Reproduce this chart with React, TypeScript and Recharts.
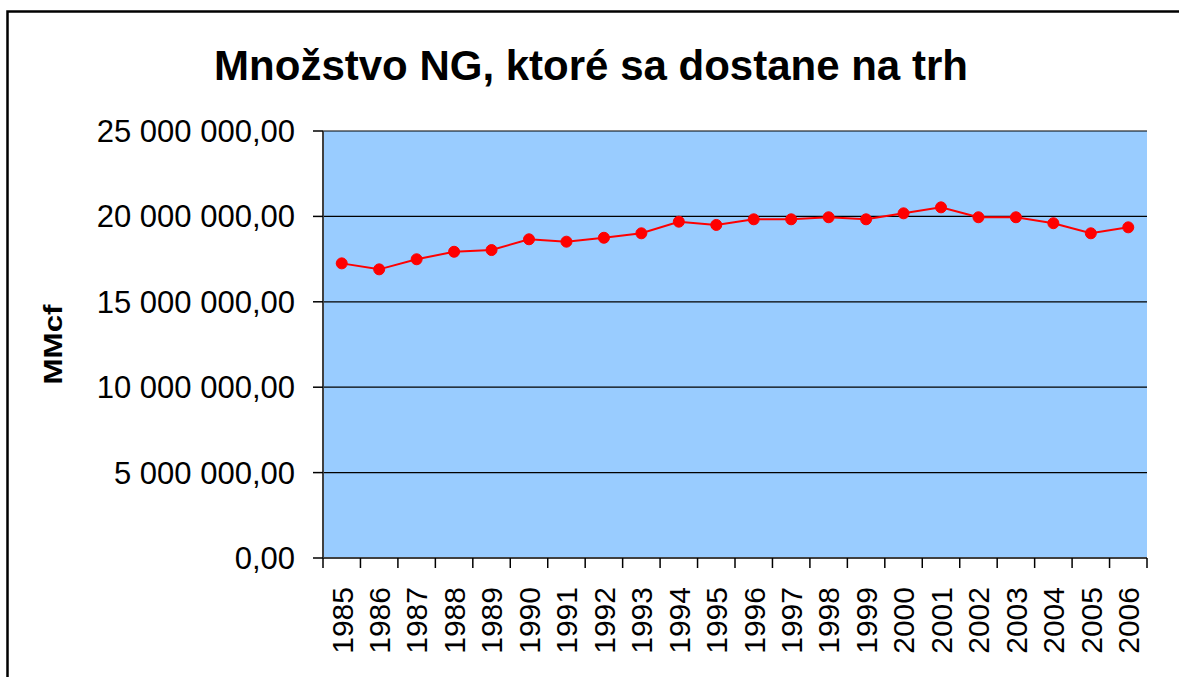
import React from 'react';
import { LineChart, Line, XAxis, YAxis, CartesianGrid } from 'recharts';

const years = ['1985','1986','1987','1988','1989','1990','1991','1992','1993','1994','1995','1996','1997','1998','1999','2000','2001','2002','2003','2004','2005','2006'];
const volumes = [17250000,16900000,17490000,17930000,18030000,18660000,18520000,18750000,19010000,19690000,19500000,19830000,19830000,19950000,19830000,20180000,20530000,19950000,19950000,19600000,19010000,19360000];
const yTicks = [0, 5000000, 10000000, 15000000, 20000000, 25000000];
const title = 'Množstvo NG, ktoré sa dostane na trh';
const yTitle = 'MMcf';

const data = years.map((y, i) => ({ year: y, value: volumes[i] }));

const W = 1179;
const H = 677;
const M = { top: 131, right: 32, bottom: 0, left: 0 };
const Y_W = 323;
const X_H = 119;
const FONT = '"Liberation Sans", Arial, sans-serif';
const HALF = (W - M.left - M.right - Y_W) / years.length / 2;

const fmt = (v: number) => String(v).replace(/\B(?=(\d{3})+(?!\d))/g, ' ') + ',00';

const XTick = (props: any) => {
  const { x, y, payload, index } = props;
  const ly = y + 29;
  return (
    <g>
      <line x1={x - HALF} x2={x - HALF} y1={y} y2={y + 10} stroke="#000" strokeWidth={1.5} />
      {index === years.length - 1 && (
        <line x1={x + HALF} x2={x + HALF} y1={y} y2={y + 10} stroke="#000" strokeWidth={1.5} />
      )}
      <text x={x} y={ly} transform={`rotate(-90 ${x} ${ly})`} textAnchor="end" dy="0.36em" fontSize={30} fontFamily={FONT} fill="#000">
        {payload.value}
      </text>
    </g>
  );
};

const YLabel = (props: any) => {
  const { viewBox } = props;
  const cx = viewBox.x + 53;
  const cy = viewBox.y + viewBox.height / 2;
  return (
    <text x={cx} y={cy} transform={`rotate(-90 ${cx} ${cy})`} textAnchor="middle" dy="0.36em" fontSize={25} fontWeight="bold" fontFamily={FONT} fill="#000" textLength={80} lengthAdjust="spacingAndGlyphs">
      {yTitle}
    </text>
  );
};

export default function App() {
  return (
    <div style={{ position: 'fixed', left: 0, top: 0, width: W, height: H, background: '#fff' }}>
      <LineChart width={W} height={H} data={data} margin={M}>
        <CartesianGrid xAxisId="b" yAxisId="l" vertical={false} horizontal={true} stroke="#000" strokeWidth={1.2} fill="#99CCFF" fillOpacity={1} />
        <XAxis dataKey="year" xAxisId="b" scale="band" height={X_H} tickSize={0} tickMargin={0} tickLine={false} interval={0} axisLine={{ stroke: '#404040', strokeWidth: 2 }} tick={<XTick />} />
        <XAxis dataKey="year" xAxisId="t" scale="band" orientation="top" height={0} tick={false} tickLine={false} axisLine={{ stroke: '#8a8a8a', strokeWidth: 2 }} />
        <YAxis yAxisId="l" width={Y_W} domain={[0, 25000000]} ticks={yTicks} tickFormatter={fmt} interval={0} tickSize={10} tickMargin={18} tick={{ fontSize: 31, fill: '#000', fontFamily: FONT }} tickLine={{ stroke: '#000', strokeWidth: 1.5 }} axisLine={{ stroke: '#404040', strokeWidth: 2 }} label={<YLabel />} />
        <YAxis yAxisId="r" orientation="right" width={0} domain={[0, 25000000]} tick={false} tickLine={false} axisLine={{ stroke: '#8a8a8a', strokeWidth: 2.5 }} />
        <Line xAxisId="b" yAxisId="l" type="linear" dataKey="value" stroke="#FF0000" strokeWidth={2} dot={{ r: 5.5, fill: '#FF0000', stroke: '#FF0000', strokeWidth: 1 }} isAnimationActive={false} />
      </LineChart>
      <svg width={W} height={H} style={{ position: 'absolute', left: 0, top: 0, pointerEvents: 'none' }}>
        <path d={`M7.5 ${H} V11.5 H${W}`} fill="none" stroke="#000" strokeWidth={2.5} />
        <text x={591} y={80} textAnchor="middle" fontSize={42} fontWeight="bold" fontFamily={FONT} fill="#000">
          {title}
        </text>
      </svg>
    </div>
  );
}
